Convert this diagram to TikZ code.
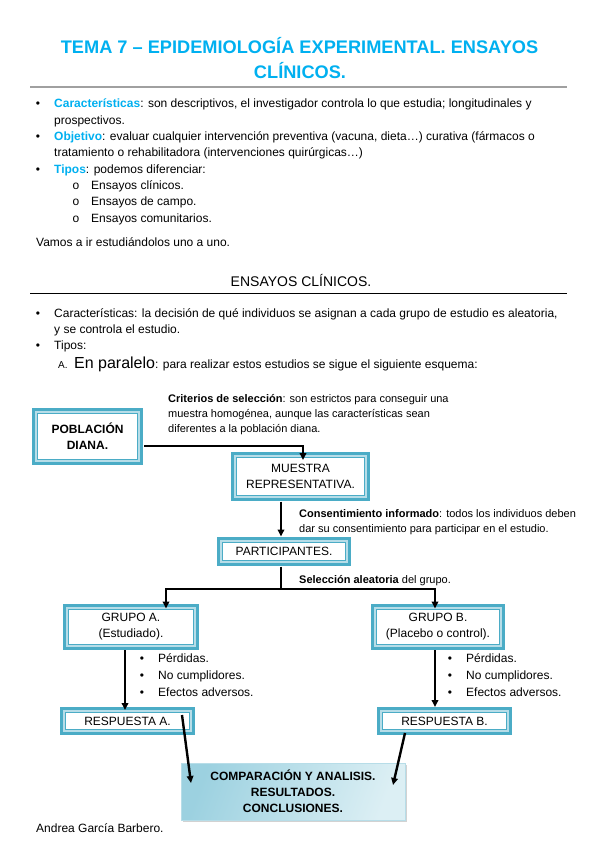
\documentclass[tikz,border=0pt]{standalone}
\usepackage{fontspec}
\setmainfont{Liberation Sans}
\usetikzlibrary{arrows.meta,shadows}
\definecolor{titlecyan}{HTML}{00B0F0}
\definecolor{boxblue}{HTML}{4BACC6}
\definecolor{boxlight}{HTML}{B7DDE8}
\definecolor{rulegray}{HTML}{A0A0A0}
\definecolor{compdark}{HTML}{9CD1E0}
\definecolor{complight}{HTML}{DCEFF4}
\definecolor{compborder}{HTML}{B7DDE8}
\begin{document}
\begin{tikzpicture}[x=1pt,y=-1pt,
  txt/.style={anchor=base west, inner sep=0pt, font=\fontsize{12}{14}\selectfont},
  ctxt/.style={anchor=base, inner sep=0pt, font=\fontsize{12}{14}\selectfont},
  note/.style={anchor=base west, inner sep=0pt, font=\fontsize{11}{13}\selectfont},
  bul/.style={anchor=base, inner sep=0pt, font=\fontsize{12}{14}\selectfont},
  frame/.style={preaction={draw=boxblue, line width=11pt},
                preaction={draw=boxlight, line width=5pt},
                fill=white, draw=boxblue, line width=1pt,
                inner sep=0pt, align=center, font=\fontsize{12}{16}\selectfont},
  comp/.style={draw=compborder, line width=0.8pt, left color=compdark, right color=complight,
               shading angle=70, drop shadow={shadow xshift=1.5pt, shadow yshift=-1.5pt, opacity=0.35},
               inner sep=0pt, align=center, font=\fontsize{12}{16}\selectfont\bfseries},
  arr/.style={line width=2.4pt, -{Triangle[length=7pt,width=6.5pt]}},
  ln/.style={line width=2.4pt}
]
\useasboundingbox (0,0) rectangle (599,848);
\fill[white] (0,0) rectangle (599,848);

% Title
\node[anchor=base, inner sep=0pt, font=\fontsize{18.2}{22}\selectfont\bfseries, text=titlecyan] (title1) at (299.5,54) {TEMA 7 – EPIDEMIOLOGÍA EXPERIMENTAL. ENSAYOS};
\node[anchor=base, inner sep=0pt, font=\fontsize{18.2}{22}\selectfont\bfseries, text=titlecyan] (title2) at (300,79) {CLÍNICOS.};
\coordinate (r1a) at (30,87.5);
\coordinate (r1b) at (567,87.5);
\draw[rulegray, line width=2pt] (r1a) -- (r1b);

% First list
\node[bul] (b1) at (38,108) {•};
\node[txt] (l1) at (54,108) {{\bfseries\color{titlecyan}Características}: son descriptivos, el investigador controla lo que estudia; longitudinales y};
\node[txt] (l2) at (54,124.3) {prospectivos.};
\node[bul] (b2) at (38,140.6) {•};
\node[txt] (l3) at (54,140.6) {{\bfseries\color{titlecyan}Objetivo}: evaluar cualquier intervención preventiva (vacuna, dieta…) curativa (fármacos o};
\node[txt] (l4) at (54,156.9) {tratamiento o rehabilitadora (intervenciones quirúrgicas…)};
\node[bul] (b3) at (38,173.2) {•};
\node[txt] (l5) at (54,173.2) {{\bfseries\color{titlecyan}Tipos}: podemos diferenciar:};
\node[bul] (s1) at (76,189.5) {o};
\node[txt] (l6) at (91,189.5) {Ensayos clínicos.};
\node[bul] (s2) at (76,205.8) {o};
\node[txt] (l7) at (91,205.8) {Ensayos de campo.};
\node[bul] (s3) at (76,222.1) {o};
\node[txt] (l8) at (91,222.1) {Ensayos comunitarios.};
\node[txt] (l9) at (36,246) {Vamos a ir estudiándolos uno a uno.};

% Section
\node[anchor=base, inner sep=0pt, font=\fontsize{14}{16}\selectfont] (sec) at (301,286) {ENSAYOS CLÍNICOS.};
\coordinate (r2a) at (30,293.5);
\coordinate (r2b) at (567,293.5);
\draw[black, line width=0.8pt] (r2a) -- (r2b);
\node[bul] (b4) at (38,317) {•};
\node[txt] (m1) at (54,317) {Características: la decisión de qué individuos se asignan a cada grupo de estudio es aleatoria,};
\node[txt] (m2) at (54,333) {y se controla el estudio.};
\node[bul] (b5) at (38,349) {•};
\node[txt] (m3) at (54,349) {Tipos:};
\node[txt] (m4) at (58,368) {{\fontsize{10}{12}\selectfont A.}\hspace{6.5pt}{\fontsize{16}{18}\selectfont En paralelo}: para realizar estos estudios se sigue el siguiente esquema:};

% Diagram annotations
\node[note] (c1) at (168,402) {{\bfseries Criterios de selección}: son estrictos para conseguir una};
\node[note] (c2) at (168,417) {muestra homogénea, aunque las características sean};
\node[note] (c3) at (168,432) {diferentes a la población diana.};
\node[note] (k1) at (299,517) {{\bfseries Consentimiento informado}: todos los individuos deben};
\node[note] (k2) at (299,532) {dar su consentimiento para participar en el estudio.};
\node[note] (sa) at (299,583) {{\bfseries Selección aleatoria} del grupo.};

% Boxes
\node[frame, minimum width=100pt, minimum height=46pt, font=\fontsize{12}{16}\selectfont\bfseries] (pd) at (87.5,436.5) {POBLACIÓN\\DIANA.};
\node[frame, minimum width=128pt, minimum height=38pt] (mr) at (300.5,476.5) {MUESTRA\\REPRESENTATIVA.};
\node[frame, minimum width=123pt, minimum height=18pt] (pa) at (284,551.5) {PARTICIPANTES.};
\node[frame, minimum width=125pt, minimum height=35pt] (ga) at (131,626.5) {GRUPO A.\\(Estudiado).};
\node[frame, minimum width=123pt, minimum height=35pt] (gb) at (438,626.5) {GRUPO B.\\(Placebo o control).};
\node[frame, minimum width=124pt, minimum height=17pt] (ra) at (127.5,721) {RESPUESTA A.};
\node[frame, minimum width=124pt, minimum height=17pt] (rb) at (444.5,721) {RESPUESTA B.};
\node[comp, minimum width=224pt, minimum height=57pt] (cp) at (293,791.5) {COMPARACIÓN Y ANALISIS.\\RESULTADOS.\\CONCLUSIONES.};

% Lists inside diagram
\node[bul] (pb1) at (142,662) {•};
\node[txt] (p1) at (158,662) {Pérdidas.};
\node[bul] (pb2) at (142,679) {•};
\node[txt] (p2) at (158,679) {No cumplidores.};
\node[bul] (pb3) at (142,696) {•};
\node[txt] (p3) at (158,696) {Efectos adversos.};
\node[bul] (qb1) at (450,662) {•};
\node[txt] (q1) at (466,662) {Pérdidas.};
\node[bul] (qb2) at (450,679) {•};
\node[txt] (q2) at (466,679) {No cumplidores.};
\node[bul] (qb3) at (450,696) {•};
\node[txt] (q3) at (466,696) {Efectos adversos.};

% Connectors
\draw[arr] ([xshift=6pt,yshift=-9.5pt]pd.east) -| ([xshift=2.5pt,yshift=-3pt]mr.north);
\draw[arr] ([xshift=-19.5pt,yshift=-5.5pt]mr.south) -- ([xshift=-3pt,yshift=5.5pt]pa.north);
\coordinate (split) at (281,589);
\draw[ln] ([xshift=-3pt,yshift=-5.5pt]pa.south) -- (split);
\draw[arr] (split) -| ([xshift=35pt]ga.north);
\draw[arr] (split) -| ([xshift=-3pt]gb.north);
\draw[arr] ([xshift=-6pt,yshift=-5.5pt]ga.south) -- ([xshift=-2.5pt,yshift=2pt]ra.north);
\draw[arr] ([xshift=-3pt,yshift=-5.5pt]gb.south) -- ([xshift=-9.5pt,yshift=5pt]rb.north);
\draw[arr] ([xshift=54.5pt,yshift=6pt]ra.center) -- ([xshift=-102pt,yshift=8.5pt]cp.center);
\draw[arr] ([xshift=-39.5pt,yshift=-12pt]rb.center) -- ([xshift=100pt,yshift=6.5pt]cp.center);

\node[txt] (auth) at (36,832) {Andrea García Barbero.};
\end{tikzpicture}
\end{document}
